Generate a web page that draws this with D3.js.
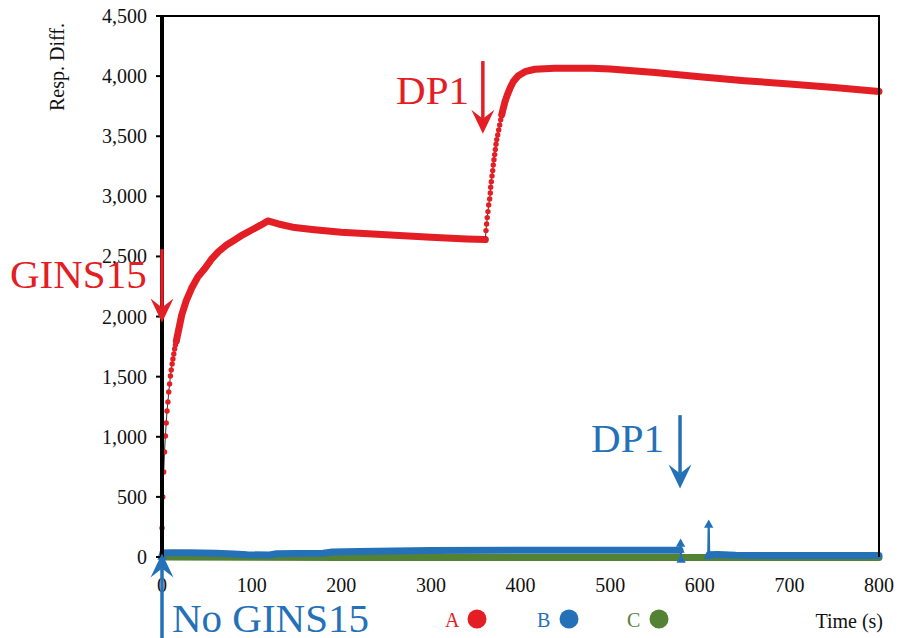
<!DOCTYPE html>
<html>
<head>
<meta charset="utf-8">
<script src="https://cdn.jsdelivr.net/npm/d3@7"></script>
<style>
    html, body { margin: 0; padding: 0; background: #fff; }
    svg { display: block; font-family: "Liberation Serif", "Times New Roman", serif; }
</style>
</head>
<body>
<svg id="chart" width="898" height="638"></svg>
<script>
// Sensorgram - Resp. Diff. vs Time (s), series A / B / C

// Serie A (rossa): tempi e valori
const redTime = [
    0, 0.9, 1.9, 2.8, 3.8, 4.7, 5.6, 6.6, 7.5, 8.5, 9.4, 10.3, 11.3, 12.2, 13.2, 14.1, 15, 16,
    22, 27, 33, 40, 48, 55, 63, 72, 81, 90, 100, 110, 118, 130, 148, 170, 200, 250, 300, 340, 360.8,
    361.5, 362.2, 362.9, 363.7, 364.5, 365.6, 366.3, 366.7, 367.4, 368.2, 369.0, 369.6, 370.4,
    371.2, 371.9, 372.7, 373.5, 374.6, 375.7, 376.8, 377.9, 379.0, 380.8,
    382.7, 385.3, 388.3, 392.0, 397.6, 405, 416, 438, 480, 500, 550, 600, 650, 700, 750, 800
];
const redValue = [
    241, 499, 707, 873, 1007, 1115, 1215, 1290, 1373, 1440, 1506, 1556, 1606, 1647, 1689, 1730, 1764, 1797,
    2013, 2130, 2235, 2330, 2402, 2475, 2540, 2595, 2637, 2680, 2720, 2760, 2795, 2770, 2740, 2722, 2702, 2680, 2660, 2645, 2640,
    2715, 2770, 2823, 2873, 2928, 2978, 3028, 3076, 3122, 3170, 3214, 3261, 3305,
    3347, 3389, 3433, 3472, 3511, 3552, 3594, 3636, 3677, 3733,
    3788, 3844, 3899, 3955, 4004, 4037, 4057, 4066, 4066, 4060, 4030, 3995, 3962, 3935, 3905, 3872
];

// Serie B (blu): null = interruzione dei dati
const blueTime = [
    0, 1, 10, 30, 60, 80, 95, 120, 128, 150, 180, 190, 220, 260, 300, 400, 500, 578, 578.6, 579.2,
    595,
    609.5, 610, 610.5, 620, 640, 700, 760, 800
];
const blueValue = [
    0, 33, 35, 36, 32, 24, 18, 17, 27, 29, 31, 42, 45, 50, 55, 56, 56, 57, 108, -25,
    null,
    5, 266, 18, 20, 14, 12, 12, 12
];

// Serie C (verde)
const greenTime = [0, 100, 200, 300, 400, 500, 600, 700, 800];
const greenValue = [0, -3, -4, -4, -4, -4, -4, -4, -4];

// Assi
const xTicks = [0, 100, 200, 300, 400, 500, 600, 700, 800];
const yTicks = [0, 500, 1000, 1500, 2000, 2500, 3000, 3500, 4000, 4500];

// Legenda
const legendLabels = ["A", "B", "C"];

const COLORS = { A: "#e31e24", B: "#2571b7", C: "#548235" };

const CHART = {
    width: 898,
    height: 638,
    margin: { top: 16, right: 19, bottom: 81, left: 162 },
    bandWidth: 7,     // spessore delle parti "piene" (marker sovrapposti)
    sampleGap: 1.5    // sotto questo passo (s) i campioni sono disegnati come punti
};

const svg = d3.select("#chart");

const x = d3.scaleLinear()
    .domain([0, 800])
    .range([CHART.margin.left, CHART.width - CHART.margin.right]);

const y = d3.scaleLinear()
    .domain([0, 4500])
    .range([CHART.height - CHART.margin.bottom, CHART.margin.top]);

/**
 * Divide la serie in tratti: "solid" (linea spessa) e "dots" (campioni singoli)
 */
function splitRuns(times, values) {
    const runs = [];
    let pts = [];
    times.forEach((t, i) => {
        if (values[i] === null) {
            if (pts.length) runs.push(...runsOf(pts));
            pts = [];
            return;
        }
        pts.push([t, values[i]]);
    });
    if (pts.length) runs.push(...runsOf(pts));
    return runs;
}

function runsOf(pts) {
    const out = [];
    let current = null;
    for (let i = 0; i < pts.length - 1; i++) {
        const type = (pts[i + 1][0] - pts[i][0]) > CHART.sampleGap ? "solid" : "dots";
        if (!current || current.type !== type) {
            current = { type, points: [pts[i]] };
            out.push(current);
        }
        current.points.push(pts[i + 1]);
    }
    return out;
}

const line = d3.line()
    .x(d => x(d[0]))
    .y(d => y(d[1]));

/**
 * Disegna una serie
 */
function drawSeries(times, values, color, opts) {
    const g = svg.append("g").attr("class", "series");
    const runs = splitRuns(times, values);

    runs.filter(r => r.type === "solid").forEach(r => {
        g.append("path")
            .attr("d", line(r.points))
            .attr("fill", "none")
            .attr("stroke", color)
            .attr("stroke-width", CHART.bandWidth)
            .attr("stroke-linecap", "round")
            .attr("stroke-linejoin", "round");
    });

    runs.filter(r => r.type === "dots").forEach(r => {
        g.append("path")
            .attr("d", line(r.points))
            .attr("fill", "none")
            .attr("stroke", opts.thinColor)
            .attr("stroke-width", opts.thinWidth);

        if (opts.marker === "circle") {
            g.selectAll(null)
                .data(r.points)
                .join("circle")
                .attr("cx", d => x(d[0]))
                .attr("cy", d => y(d[1]))
                .attr("r", 2.7)
                .attr("fill", color);
        } else if (opts.marker === "triangle") {
            g.selectAll(null)
                .data(r.points)
                .join("path")
                .attr("transform", d => `translate(${x(d[0])}, ${y(d[1])})`)
                .attr("d", d3.symbol().type(d3.symbolTriangle).size(38))
                .attr("fill", color);
        }
    });
}

// Asse X (linea base) sotto le serie
svg.append("line")
    .attr("x1", x(0)).attr("x2", x(800))
    .attr("y1", y(0)).attr("y2", y(0))
    .attr("stroke", "#000")
    .attr("stroke-width", 1);

// Serie: C sotto, poi B, poi A
drawSeries(greenTime, greenValue, COLORS.C, { thinColor: COLORS.C, thinWidth: 2, marker: null });
drawSeries(blueTime, blueValue, COLORS.B, { thinColor: COLORS.B, thinWidth: 2.2, marker: "triangle" });
drawSeries(redTime, redValue, COLORS.A, { thinColor: "#333", thinWidth: 1, marker: "circle" });

// Bordo superiore e destro
svg.append("line")
    .attr("x1", x(0)).attr("x2", x(800) + 1)
    .attr("y1", y(4500)).attr("y2", y(4500))
    .attr("stroke", "#000").attr("stroke-width", 2);

svg.append("line")
    .attr("x1", x(800)).attr("x2", x(800))
    .attr("y1", y(4500)).attr("y2", y(0))
    .attr("stroke", "#000").attr("stroke-width", 2);

// Asse Y (spesso) con tick
const yAxis = svg.append("g").attr("class", "y-axis");

yAxis.append("line")
    .attr("x1", x(0)).attr("x2", x(0))
    .attr("y1", y(4500) - 1).attr("y2", y(0) + 3)
    .attr("stroke", "#000").attr("stroke-width", 4);

yAxis.selectAll(".tick")
    .data(yTicks)
    .join("line")
    .attr("class", "tick")
    .attr("x1", x(0) - 6).attr("x2", x(0))
    .attr("y1", d => y(d)).attr("y2", d => y(d))
    .attr("stroke", "#000").attr("stroke-width", 2);

yAxis.selectAll(".tick-label")
    .data(yTicks)
    .join("text")
    .attr("class", "tick-label")
    .attr("x", x(0) - 15)
    .attr("y", d => y(d))
    .attr("dy", "0.35em")
    .attr("text-anchor", "end")
    .attr("font-size", 20)
    .attr("fill", "#111")
    .text(d3.format(","));

svg.append("text")
    .attr("transform", `translate(64, 67) rotate(-90)`)
    .attr("text-anchor", "middle")
    .attr("font-size", 20)
    .attr("fill", "#111")
    .text("Resp. Diff.");

// Etichette asse X
svg.selectAll(".x-label")
    .data(xTicks)
    .join("text")
    .attr("class", "x-label")
    .attr("x", d => x(d))
    .attr("y", 592)
    .attr("text-anchor", "middle")
    .attr("font-size", 20)
    .attr("fill", "#111")
    .text(d => d);

svg.append("text")
    .attr("x", 883)
    .attr("y", 628)
    .attr("text-anchor", "end")
    .attr("font-size", 20)
    .attr("fill", "#111")
    .text("Time (s)");

// Legenda
const legendX = [445, 537, 627];
legendLabels.forEach((label, i) => {
    const color = COLORS[label];
    svg.append("text")
        .attr("x", legendX[i])
        .attr("y", 627)
        .attr("font-size", 20)
        .attr("fill", color)
        .text(label);
    svg.append("circle")
        .attr("cx", legendX[i] + 32)
        .attr("cy", 619)
        .attr("r", 9.5)
        .attr("fill", color);
});

/**
 * Freccia verticale con punta a barbe
 */
function arrow(px, yFrom, yTo, color) {
    const dir = yTo > yFrom ? 1 : -1;
    const head = 24, half = 11.5, notch = 15;
    svg.append("line")
        .attr("x1", px).attr("x2", px)
        .attr("y1", yFrom).attr("y2", yTo - dir * notch)
        .attr("stroke", color).attr("stroke-width", 3.5);
    svg.append("path")
        .attr("d", `M${px},${yTo} L${px - half},${yTo - dir * head} L${px},${yTo - dir * notch} L${px + half},${yTo - dir * head} Z`)
        .attr("fill", color);
}

function label(text, px, py, anchor, color) {
    svg.append("text")
        .attr("x", px)
        .attr("y", py)
        .attr("text-anchor", anchor)
        .attr("font-size", 41)
        .attr("fill", color)
        .text(text);
}

// Annotazioni
arrow(x(0), y(2560), y(1950), COLORS.A);
label("GINS15", 10, 288, "start", COLORS.A);

arrow(x(358), y(4125), y(3520), COLORS.A);
label("DP1", 469, 104, "end", COLORS.A);

arrow(x(578), y(1180), y(570), COLORS.B);
label("DP1", 664, 452, "end", COLORS.B);

arrow(x(0), 638, y(30), COLORS.B);
label("No GINS15", 172, 632, "start", COLORS.B);
</script>
</body>
</html>
